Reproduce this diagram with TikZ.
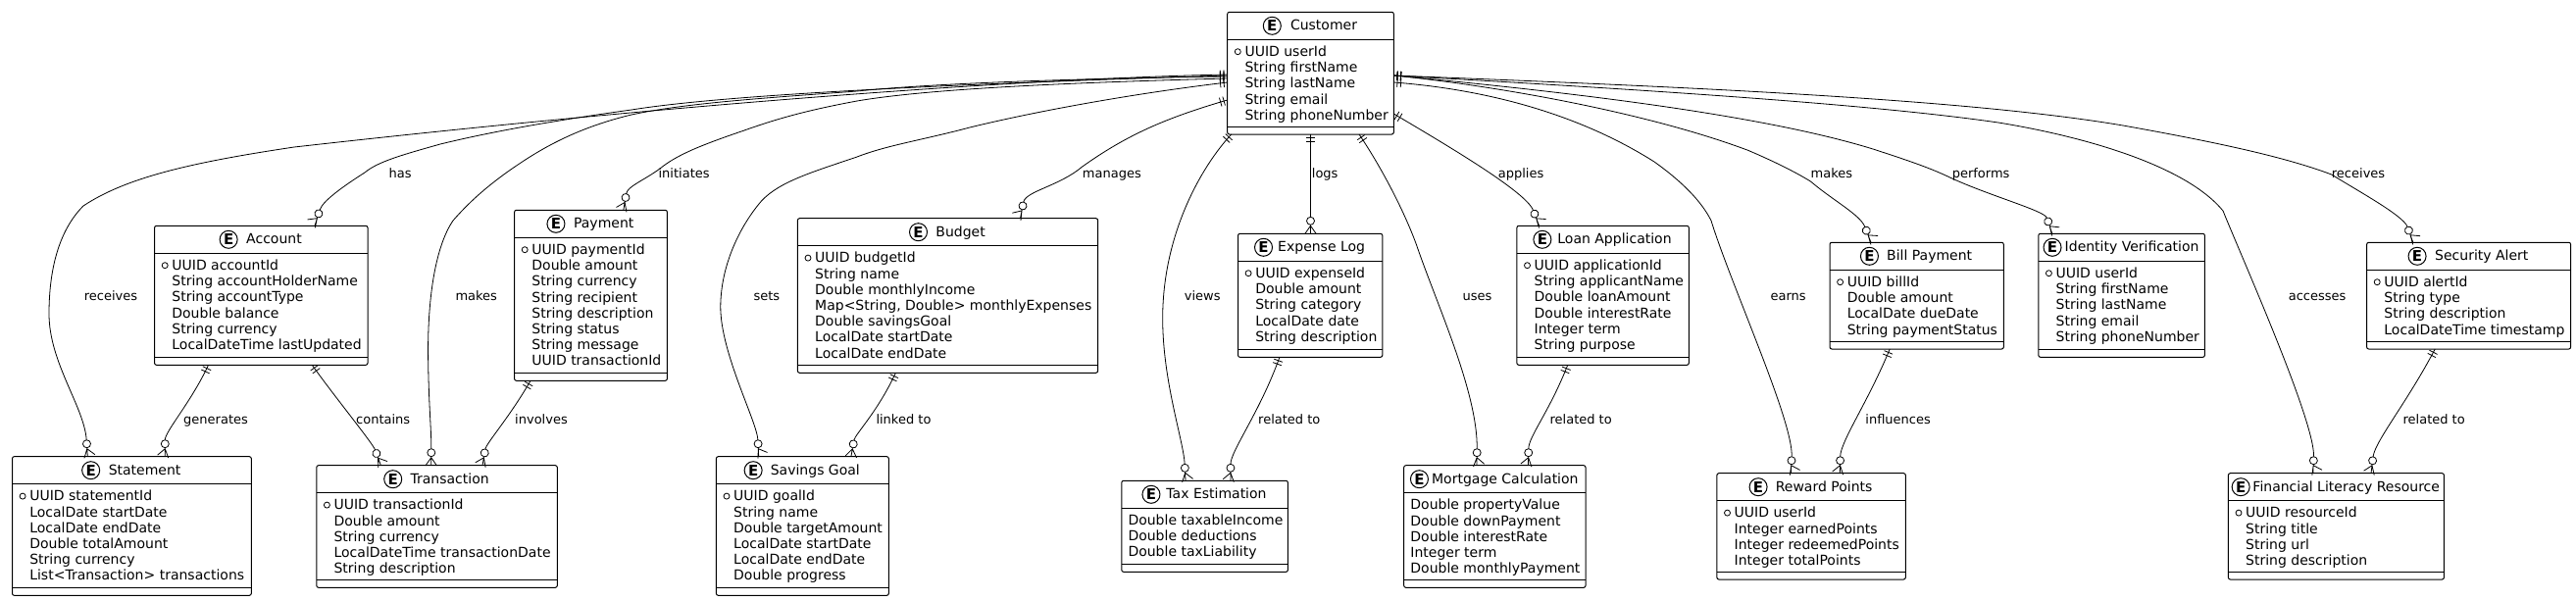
\documentclass[tikz,border=0pt]{standalone}
\usepackage{fontspec}
\setmainfont{DejaVu Sans}
\usepackage{tikz}
\usetikzlibrary{arrows.meta,calc,positioning}

\pgfdeclarearrow{
  name=Onlyone,
  setup code={\pgfarrowssettipend{0pt}\pgfarrowssetbackend{-8pt}\pgfarrowssetlineend{0pt}},
  drawing code={
    \pgfsetlinewidth{0.8pt}
    \pgfpathmoveto{\pgfqpoint{-3.7pt}{-4.6pt}}\pgfpathlineto{\pgfqpoint{-3.7pt}{4.6pt}}
    \pgfpathmoveto{\pgfqpoint{-7.3pt}{-4.6pt}}\pgfpathlineto{\pgfqpoint{-7.3pt}{4.6pt}}
    \pgfusepathqstroke
  }
}
\newcommand{\footarrow}[2]{
  \pgfdeclarearrow{
    name=#1,
    setup code={\pgfarrowssettipend{0pt}\pgfarrowssetbackend{-17pt}\pgfarrowssetlineend{-17pt}},
    drawing code={
      \pgfsetlinewidth{0.8pt}
      \pgfmathsetmacro{\armone}{#2+35}
      \pgfmathsetmacro{\armtwo}{#2-35}
      \pgfpathcircle{\pgfqpoint{-13pt}{0pt}}{4pt}
      \pgfpathmoveto{\pgfpointadd{\pgfqpoint{-8pt}{0pt}}{\pgfpointpolar{\armone}{10pt}}}
      \pgfpathlineto{\pgfqpoint{-8pt}{0pt}}
      \pgfpathlineto{\pgfpointadd{\pgfqpoint{-8pt}{0pt}}{\pgfpointpolar{\armtwo}{10pt}}}
      \pgfpathmoveto{\pgfqpoint{-8pt}{0pt}}\pgfpathlineto{\pgfqpoint{0pt}{0pt}}
      \pgfusepathqstroke
    }
  }
}
\footarrow{Tiltnone}{0}
\footarrow{Rightone}{15}
\footarrow{Righttwo}{30}
\footarrow{Leftone}{-15}
\footarrow{Lefttwo}{-30}

\tikzset{
  entbox/.style={draw=black,line width=1pt,rounded corners=2pt,inner sep=0pt,outer sep=0pt},
  entline/.style={draw=black,line width=1pt},
  enttitle/.style={inner sep=0pt,anchor=base,font=\fontsize{14}{16.2}\selectfont},
  stamp/.style={draw=black,circle,line width=1pt,minimum size=18pt,inner sep=0pt,font=\fontsize{15}{15}\selectfont\bfseries},
  attrs/.style={inner sep=0pt,anchor=north west,align=left,font=\fontsize{14}{16.2}\selectfont},
  keydot/.style={draw=black,circle,line width=0.8pt,minimum size=6pt,inner sep=0pt},
  lbl/.style={inner sep=0pt,anchor=base west,font=\fontsize{13}{15}\selectfont},
  rel/.style={draw=black,line width=0.8pt,Onlyone-#1}
}

\newcommand{\entity}[9][17.6]{
  \node[entbox,minimum width={(#4)-(#3)},minimum height={(#6)-(#5)}] (#2) at ({(#3+#4)/2},{(#5+#6)/2}) {};
  \node[enttitle] (#2-title) at ({(#3+#4)/2+(18+#7)/2},{#5+18.4}) {#8};
  \node[stamp,left=#7pt of #2-title.base west,yshift=4.4pt] (#2-stamp) {E};
  \draw[entline] ($(#2.north west)+(0,28.2)$) -- ($(#2.north east)+(0,28.2)$);
  \draw[entline] ($(#2.south west)+(0,-8)$) -- ($(#2.south east)+(0,-8)$);
  \node[attrs] (#2-attrs) at ($(#2.north west)+(#1,34.4)$) {#9};
}
\newcommand{\keymark}[1]{
  \node[keydot] (#1-key) at ($(#1.north west)+(10.6,40.4)$) {};
}

\begin{document}
\begin{tikzpicture}[x=1pt,y=-1pt]
\useasboundingbox (0,0) rectangle (2627,613);

\entity{customer}{1251.7}{1421.3}{12.3}{137}{9}{Customer}{UUID userId\\String firstName\\String lastName\\String email\\String phoneNumber}
\keymark{customer}
\entity{account}{157.6}{375}{230.3}{372.3}{8.4}{Account}{UUID accountId\\String accountHolderName\\String accountType\\Double balance\\String currency\\LocalDateTime lastUpdated}
\keymark{account}
\entity{payment}{524.6}{680.4}{214.3}{388.3}{8.4}{Payment}{UUID paymentId\\Double amount\\String currency\\String recipient\\String description\\String status\\String message\\UUID transactionId}
\keymark{payment}
\entity{statement}{12.5}{256.3}{465.7}{607.3}{8.4}{Statement}{UUID statementId\\LocalDate startDate\\LocalDate endDate\\Double totalAmount\\String currency\\List<Transaction> transactions}
\keymark{statement}
\entity{transaction}{322.8}{568.3}{474.7}{599.3}{8.2}{Transaction}{UUID transactionId\\Double amount\\String currency\\LocalDateTime transactionDate\\String description}
\keymark{transaction}
\entity{budget}{813.4}{1119.6}{222.7}{380.3}{8.2}{Budget}{UUID budgetId\\String name\\Double monthlyIncome\\Map<String, Double> monthlyExpenses\\Double savingsGoal\\LocalDate startDate\\LocalDate endDate}
\keymark{budget}
\entity{savings}{730.4}{906.3}{465.7}{607.3}{8}{Savings Goal}{UUID goalId\\String name\\Double targetAmount\\LocalDate startDate\\LocalDate endDate\\Double progress}
\keymark{savings}
\entity{expense}{1262.5}{1409.8}{238.3}{364.3}{5}{Expense Log}{UUID expenseId\\Double amount\\String category\\LocalDate date\\String description}
\keymark{expense}
\entity[6.5]{tax}{1143.8}{1313.4}{490.3}{583.3}{5.8}{Tax Estimation}{Double taxableIncome\\Double deductions\\Double taxLiability}
\entity{loan}{1546.9}{1722.3}{230.3}{372.3}{5.8}{Loan Application}{UUID applicationId\\String applicantName\\Double loanAmount\\Double interestRate\\Integer term\\String purpose}
\keymark{loan}
\entity[6.5]{mortgage}{1431.7}{1617}{474.7}{599.3}{3}{Mortgage Calculation}{Double propertyValue\\Double downPayment\\Double interestRate\\Integer term\\Double monthlyPayment}
\entity{bill}{1866}{2043.3}{247.3}{356}{8}{Bill Payment}{UUID billId\\Double amount\\LocalDate dueDate\\String paymentStatus}
\keymark{bill}
\entity{reward}{1750.9}{1943.3}{482.7}{591}{8}{Reward Points}{UUID userId\\Integer earnedPoints\\Integer redeemedPoints\\Integer totalPoints}
\keymark{reward}
\entity{identity}{2078.8}{2248.4}{238.3}{364.3}{3}{Identity Verification}{UUID userId\\String firstName\\String lastName\\String email\\String phoneNumber}
\keymark{identity}
\entity{alert}{2413.6}{2621.6}{247.3}{356}{8.4}{Security Alert}{UUID alertId\\String type\\String description\\LocalDateTime timestamp}
\keymark{alert}
\entity{literacy}{2272.4}{2492.4}{482.7}{591}{2.6}{Financial Literacy Resource}{UUID resourceId\\String title\\String url\\String description}
\keymark{literacy}

\draw[rel=Rightone] (customer.west |- 0,76) .. controls (1050,80) and (700,105) .. (300,150) .. controls (200,165) and (130,180) .. (85,210) .. controls (60,235) and (50,275) .. (50,320) .. controls (50,370) and (86,415) .. (statement.north -| 89.3,0);
\draw[rel=Lefttwo] (customer.west |- 0,77) .. controls (1000,85) and (750,95) .. (644,112) .. controls (550,125) and (490,137) .. (449,147) .. controls (410,158) and (385,165) .. (372,176) .. controls (350,190) and (329,205) .. (account.north -| 321,0);
\draw[rel=Tiltnone] (customer.west |- 0,78) .. controls (1100,80) and (950,85) .. (874,93) .. controls (780,100) and (700,105) .. (644,117) .. controls (590,130) and (555,150) .. (529.6,167) .. controls (495,190) and (475,210) .. (462,225) .. controls (445,250) and (436,300) .. (436.6,363) .. controls (437,410) and (440,440) .. (transaction.north -| 439.7,0);
\draw[rel=Leftone] (customer.west |- 0,80) .. controls (1100,84) and (950,90) .. (874,103) .. controls (820,113) and (790,122) .. (759,133) .. controls (715,148) and (690,158) .. (673,172) .. controls (655,185) and (640,190) .. (payment.north -| 635.8,0);
\draw[rel=Righttwo] (customer.west |- 0,84) .. controls (1150,96) and (1050,115) .. (989,130) .. controls (940,143) and (905,148) .. (874,160) .. controls (830,175) and (795,185) .. (776.5,205) .. controls (755,230) and (735,270) .. (734.8,313) .. controls (734.8,360) and (772,430) .. (savings.north -| 773.7,0);
\draw[rel=Lefttwo] (customer.west |- 0,102) .. controls (1190,120) and (1150,137) .. (1103.7,170) .. controls (1080,190) and (1046,195) .. (budget.north -| 1040.5,0);
\draw[rel=Rightone] (customer.south -| 1255.7,0) .. controls (1225,170) and (1185,240) .. (1185.7,326.7) .. controls (1186,390) and (1207,450) .. (tax.north -| 1209,0);
\draw[rel=Tiltnone] (customer.south) -- (expense.north -| customer.south);
\draw[rel=Rightone] (customer.south -| 1386,0) .. controls (1405,165) and (1430,210) .. (1444.6,250) .. controls (1465,310) and (1507,400) .. (mortgage.north -| 1506,0);
\draw[rel=Righttwo] (customer.east |- 0,116) .. controls (1470,145) and (1556,195) .. (loan.north -| 1569.6,0);
\draw[rel=Righttwo] (customer.east |- 0,84) .. controls (1500,90) and (1600,110) .. (1687,165) .. controls (1715,185) and (1735,205) .. (1745,225) .. controls (1765,290) and (1829,430) .. (reward.north -| 1826.3,0);
\draw[rel=Righttwo] (customer.east |- 0,77) .. controls (1530,88) and (1680,115) .. (1782.6,153.3) .. controls (1810,165) and (1830,175) .. (1846.4,185) .. controls (1870,205) and (1897,219) .. (bill.north -| 1908,0);
\draw[rel=Righttwo] (customer.east |- 0,77) .. controls (1580,92) and (1790,115) .. (1910,152) .. controls (1950,165) and (1970,172) .. (1990,181.7) .. controls (2030,200) and (2085,215) .. (identity.north -| 2092.8,0);
\draw[rel=Righttwo] (customer.east |- 0,77) .. controls (1650,90) and (1900,105) .. (2037.8,125) .. controls (2130,140) and (2230,170) .. (2267,215) .. controls (2285,260) and (2361,430) .. (literacy.north -| 2358.8,0);
\draw[rel=Righttwo] (customer.east |- 0,77) .. controls (1700,88) and (2000,100) .. (2165,128) .. controls (2260,145) and (2330,160) .. (2377.7,178) .. controls (2405,195) and (2451,220) .. (alert.north -| 2460.8,0);

\draw[rel=Leftone] (account.south -| 212.5,0) .. controls (195,410) and (168.3,440) .. (statement.north -| 168.3,0);
\draw[rel=Rightone] (account.south -| 318.3,0) .. controls (340,403) and (380,452) .. (transaction.north -| 388.4,0);
\draw[rel=Leftone] (payment.south -| 541,0) .. controls (520,425) and (496,452) .. (transaction.north -| 492,0);
\draw[rel=Tiltnone] (budget.south -| 913.4,0) .. controls (895,420) and (872,443) .. (savings.north -| 867.9,0);
\draw[rel=Leftone] (expense.south -| 1304.9,0) .. controls (1285,420) and (1255,460) .. (tax.north -| 1254.9,0);
\draw[rel=Leftone] (loan.south -| 1598.7,0) .. controls (1580,420) and (1559,445) .. (mortgage.north -| 1558.5,0);
\draw[rel=Leftone] (bill.south -| 1927.2,0) .. controls (1905,410) and (1877,450) .. (reward.north -| 1876.3,0);
\draw[rel=Leftone] (alert.south -| 2483.2,0) .. controls (2455,410) and (2422,450) .. (literacy.north -| 2418,0);

\node[lbl] (has) at (396.4,181.7) {has};
\node[lbl] (initiates) at (671.4,181.7) {initiates};
\node[lbl] (manages) at (1103.7,181.7) {manages};
\node[lbl] (logs) at (1337.7,181.7) {logs};
\node[lbl] (applies) at (1527.6,181.7) {applies};
\node[lbl] (makesbill) at (1846.4,181.7) {makes};
\node[lbl] (performs) at (1990.6,181.7) {performs};
\node[lbl] (receivesalert) at (2377.7,181.7) {receives};
\node[lbl] (receivesstat) at (85.7,306) {receives};
\node[lbl] (makes) at (464.3,306) {makes};
\node[lbl] (sets) at (768.3,306) {sets};
\node[lbl] (views) at (1207.6,306) {views};
\node[lbl] (uses) at (1491.5,306) {uses};
\node[lbl] (earns) at (1805.4,306) {earns};
\node[lbl] (accesses) at (2333.6,306) {accesses};
\node[lbl] (generates) at (187,432.3) {generates};
\node[lbl] (contains) at (363,432.3) {contains};
\node[lbl] (involves) at (525,432.3) {involves};
\node[lbl] (linkedto) at (893.3,432.3) {linked to};
\node[lbl] (relatedtax) at (1283,432.3) {related to};
\node[lbl] (relatedloan) at (1580.4,432.3) {related to};
\node[lbl] (influences) at (1902.2,432.3) {influences};
\node[lbl] (relatedlit) at (2450.4,432.3) {related to};
\end{tikzpicture}
\end{document}
